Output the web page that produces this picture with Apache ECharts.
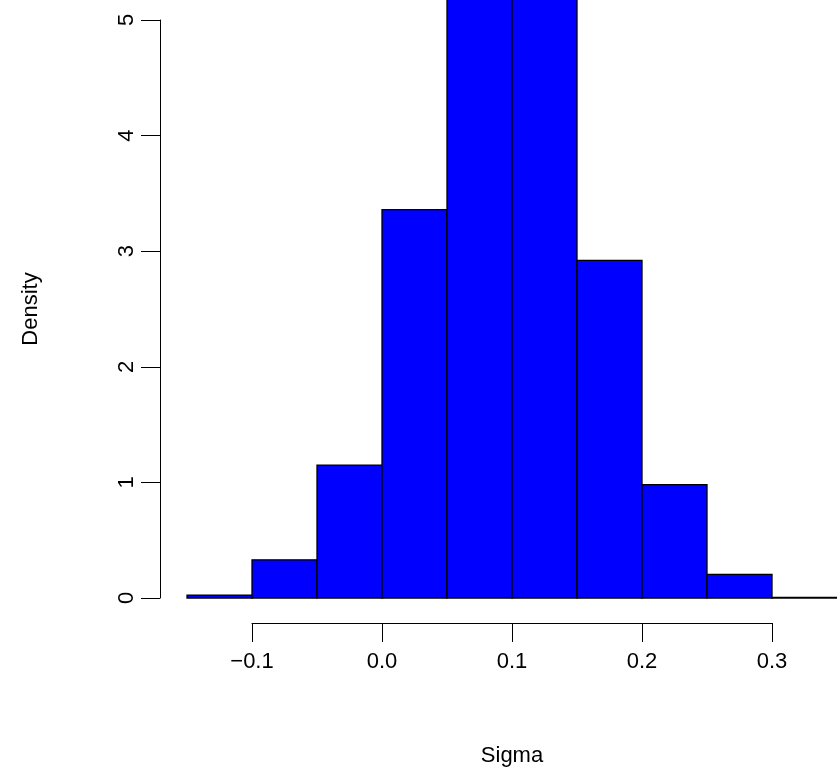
<!DOCTYPE html>
<html>
<head>
<meta charset="utf-8">
<script src="https://cdn.jsdelivr.net/npm/echarts@6/dist/echarts.min.js"></script>
<style>html,body{margin:0;padding:0;background:#fff}#c{width:837px;height:782px}</style>
</head>
<body>
<div id="c"></div>
<script>
const binStart = [-0.15, -0.10, -0.05, 0.00, 0.05, 0.10, 0.15, 0.20, 0.25, 0.30];
const binEnd   = [-0.10, -0.05, 0.00, 0.05, 0.10, 0.15, 0.20, 0.25, 0.30, 0.35];
const density  = [0.025, 0.33, 1.15, 3.36, 5.55, 5.47, 2.92, 0.98, 0.205, 0.006];
const xTicks = [-0.1, 0.0, 0.1, 0.2, 0.3];
const yTicks = [0, 1, 2, 3, 4, 5];

const font = 'Liberation Sans, Arial, Helvetica, sans-serif';
const chart = echarts.init(document.getElementById('c'), null, {renderer: 'canvas'});
const data = binStart.map((s, i) => [s, binEnd[i], density[i]]);

chart.setOption({
  animation: false,
  grid: [
    {left: 187, top: 0, width: 650, height: 598},
    {left: 252, top: 0, width: 520, height: 623},
    {left: 160, top: 20, width: 600, height: 578}
  ],
  xAxis: [
    {gridIndex: 0, type: 'value', min: -0.15, max: 0.35, show: false},
    {gridIndex: 1, type: 'value', min: xTicks[0], max: xTicks[xTicks.length - 1], interval: 0.1,
     axisLine: {show: true, onZero: false, lineStyle: {color: '#000', width: 1}},
     axisTick: {show: true, length: 19, lineStyle: {color: '#000'}},
     splitLine: {show: false},
     axisLabel: {color: '#000', fontSize: 22, fontFamily: font, margin: 28,
       formatter: v => (Math.abs(v) < 1e-9 ? '0.0' : v.toFixed(1).replace('-', '\u2212'))},
     name: 'Sigma', nameLocation: 'middle', nameGap: 122,
     nameTextStyle: {color: '#000', fontSize: 22, fontFamily: font}},
    {gridIndex: 2, type: 'value', min: 0, max: 1, show: false}
  ],
  yAxis: [
    {gridIndex: 0, type: 'value', min: 0, max: 598 / 115.6, show: false},
    {gridIndex: 1, type: 'value', min: 0, max: 1, show: false},
    {gridIndex: 2, type: 'value', min: yTicks[0], max: yTicks[yTicks.length - 1], interval: 1,
     axisLine: {show: true, onZero: false, lineStyle: {color: '#000', width: 1}},
     axisTick: {show: true, length: 19, lineStyle: {color: '#000'}},
     splitLine: {show: false},
     axisLabel: {color: '#000', fontSize: 22, fontFamily: font, margin: 22, rotate: 90},
     name: 'Density', nameLocation: 'middle', nameGap: 118,
     nameTextStyle: {color: '#000', fontSize: 22, fontFamily: font}}
  ],
  series: [{
    type: 'custom',
    xAxisIndex: 0, yAxisIndex: 0,
    data: data,
    clip: false,
    renderItem: function (params, api) {
      const p0 = api.coord([api.value(0), 0]);
      const p1 = api.coord([api.value(1), api.value(2)]);
      return {
        type: 'rect',
        shape: {x: p0[0], y: p1[1], width: p1[0] - p0[0], height: p0[1] - p1[1]},
        style: {fill: '#0000ff', stroke: '#000', lineWidth: 1.3}
      };
    }
  }]
});
</script>
</body>
</html>
